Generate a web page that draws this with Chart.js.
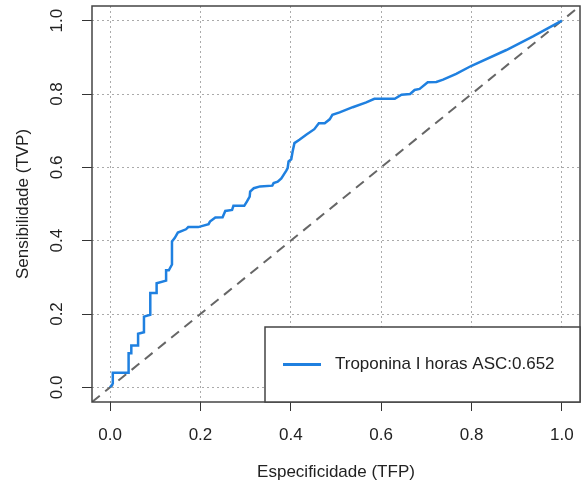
<!DOCTYPE html>
<html>
<head>
<meta charset="utf-8">
<script src="https://cdn.jsdelivr.net/npm/chart.js@4.4.0/dist/chart.umd.min.js"></script>
<style>
  html, body { margin: 0; padding: 0; background: #fff; }
</style>
</head>
<body>
<canvas id="roc" width="582" height="485"></canvas>
<script>
// ROC curve (1 - especificidade, sensibilidade)
const fpr = [0, 0.006, 0.006, 0.041, 0.041, 0.047, 0.047, 0.062, 0.062, 0.075, 0.075, 0.089, 0.089, 0.103, 0.103,
  0.124, 0.124, 0.130, 0.137, 0.137, 0.143, 0.150, 0.168, 0.173, 0.195, 0.218, 0.221, 0.233, 0.249, 0.255,
  0.270, 0.273, 0.297, 0.303, 0.309, 0.310, 0.318, 0.332, 0.359, 0.362, 0.371, 0.379, 0.390, 0.393, 0.395,
  0.401, 0.404, 0.408, 0.419, 0.434, 0.452, 0.462, 0.475, 0.486, 0.492, 0.508, 0.537, 0.567, 0.585, 0.630,
  0.645, 0.664, 0.674, 0.685, 0.703, 0.722, 0.737, 0.766, 0.800, 0.877, 0.936, 1.0];
const tpr = [0, 0.010, 0.040, 0.040, 0.093, 0.093, 0.114, 0.114, 0.146, 0.150, 0.193, 0.198, 0.257, 0.257, 0.284,
  0.291, 0.319, 0.319, 0.335, 0.398, 0.407, 0.422, 0.431, 0.437, 0.437, 0.445, 0.452, 0.463, 0.464, 0.481,
  0.484, 0.495, 0.495, 0.507, 0.520, 0.534, 0.543, 0.548, 0.550, 0.557, 0.561, 0.570, 0.591, 0.598, 0.616,
  0.622, 0.643, 0.666, 0.675, 0.689, 0.704, 0.720, 0.720, 0.731, 0.743, 0.750, 0.764, 0.777, 0.787, 0.787,
  0.798, 0.800, 0.811, 0.814, 0.832, 0.833, 0.839, 0.855, 0.877, 0.920, 0.957, 1.0];
const diagX = [-0.04, 1.04];
const diagY = [-0.04, 1.04];
const tickVals = [0, 0.2, 0.4, 0.6, 0.8, 1.0];
const seriesLabel = "Troponina I horas ASC:0.652";
const xTitle = "Especificidade (TFP)";
const yTitle = "Sensibilidade (TVP)";

const FONT = "'Liberation Sans', Arial, sans-serif";
const textColor = "#222";

// box round the plot, rotated y labels and the legend (R style)
const rStyle = {
  id: "rStyle",
  afterDraw(chart) {
    const ctx = chart.ctx;
    const a = chart.chartArea;
    const ys = chart.scales.y;
    ctx.save();
    ctx.fillStyle = textColor;
    ctx.font = "17px " + FONT;
    ctx.textAlign = "center";
    ctx.textBaseline = "middle";
    ys.ticks.forEach(t => {
      const py = ys.getPixelForValue(t.value);
      ctx.save();
      ctx.translate(57, py);
      ctx.rotate(-Math.PI / 2);
      ctx.fillText(t.value.toFixed(1), 0, 0);
      ctx.restore();
    });

    ctx.strokeStyle = "#444";
    ctx.lineWidth = 1.5;
    ctx.strokeRect(a.left, a.top, a.right - a.left, a.bottom - a.top);

    // legend
    const ds = chart.data.datasets[0];
    const lx = 265, ly = 327;
    ctx.fillStyle = "#fff";
    ctx.fillRect(lx, ly, a.right - lx, a.bottom - ly);
    ctx.strokeRect(lx, ly, a.right - lx, a.bottom - ly);
    const my = (ly + a.bottom) / 2;
    ctx.strokeStyle = ds.borderColor;
    ctx.lineWidth = 3;
    ctx.beginPath();
    ctx.moveTo(283, my);
    ctx.lineTo(321, my);
    ctx.stroke();
    ctx.fillStyle = textColor;
    ctx.textAlign = "left";
    ctx.fillText(ds.label, 335, my);
    ctx.restore();
  }
};

const setTicks = scale => { scale.ticks = tickVals.map(v => ({ value: v })); };

const chart = new Chart(document.getElementById("roc"), {
  type: "scatter",
  data: {
    datasets: [
      {
        label: seriesLabel,
        data: fpr.map((x, i) => ({ x: x, y: tpr[i] })),
        showLine: true,
        borderColor: "#1f80e0",
        borderWidth: 2.5,
        pointRadius: 0,
        tension: 0,
      },
      {
        label: "ref",
        data: diagX.map((x, i) => ({ x: x, y: diagY[i] })),
        showLine: true,
        borderColor: "#666",
        borderWidth: 2,
        borderDash: [10, 7],
        pointRadius: 0,
      },
    ],
  },
  options: {
    responsive: false,
    animation: false,
    devicePixelRatio: 1,
    layout: { padding: { top: 6, right: 2, left: 0, bottom: 0 } },
    plugins: {
      legend: { display: false },
      tooltip: { enabled: false },
    },
    scales: {
      x: {
        type: "linear",
        min: -0.04,
        max: 1.04,
        afterBuildTicks: setTicks,
        afterFit: s => { s.height = 83; s.paddingLeft = 0; s.paddingRight = 0; },
        grid: { color: "#aaa", lineWidth: 1, tickLength: 9, tickColor: "#333", tickWidth: 1 },
        border: { display: false, dash: [2, 3] },
        ticks: {
          padding: 14,
          color: textColor,
          font: { family: FONT, size: 17 },
          callback: v => v.toFixed(1),
          maxRotation: 0,
        },
        title: {
          display: true,
          text: xTitle,
          color: textColor,
          font: { family: FONT, size: 17 },
          padding: { top: 0, bottom: 2 },
        },
      },
      y: {
        type: "linear",
        min: -0.04,
        max: 1.04,
        afterBuildTicks: setTicks,
        afterFit: s => { s.width = 92; s.paddingTop = 0; s.paddingBottom = 0; },
        grid: { color: "#aaa", lineWidth: 1, tickLength: 10, tickColor: "#333", tickWidth: 1 },
        border: { display: false, dash: [2, 3] },
        ticks: { display: false },
        title: {
          display: true,
          text: yTitle,
          color: textColor,
          font: { family: FONT, size: 17 },
          padding: { top: 13, bottom: 0 },
        },
      },
    },
  },
  plugins: [rStyle],
});
</script>
</body>
</html>
